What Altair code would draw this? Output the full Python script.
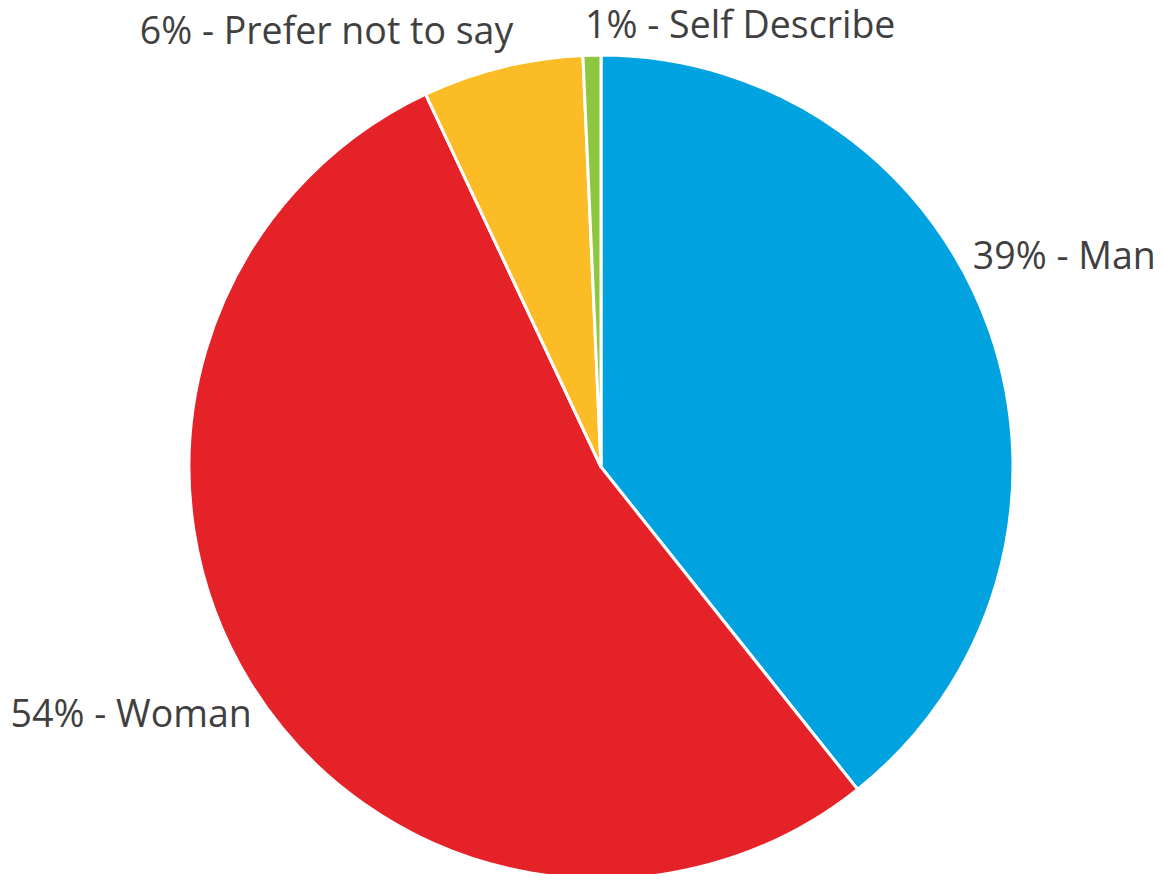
import altair as alt
import pandas as pd

categories = ["Man", "Woman", "Prefer not to say", "Self Describe"]
values = [39.3, 53.7, 6.3, 0.7]
colors = ["#00A3E0", "#E52228", "#FBBC25", "#8DC63F"]

df = pd.DataFrame({"category": categories, "value": values, "idx": list(range(len(categories)))})

W, H = 1147, 866
CX, CY = 593, 459
R = 412
LR = 450

theta_scale = alt.Scale(domain=[0, 100])
base = alt.Chart(df)

pie = base.mark_arc(outerRadius=R, stroke="white", strokeWidth=3).encode(
    theta=alt.Theta("value:Q", stack=True, scale=theta_scale),
    color=alt.Color("category:N", scale=alt.Scale(domain=categories, range=colors), legend=None),
    order=alt.Order("idx:Q"),
    x=alt.value(CX),
    y=alt.value(CY),
)

lab = base.transform_window(
    cum="sum(value)", sort=[alt.SortField("idx")], frame=[None, 0]
).transform_calculate(
    mid="datum.cum - datum.value / 2",
    label="format(datum.value, '.0f') + '% - ' + datum.category",
)


def label_layer(cat, align, dx, dy):
    return lab.transform_filter(alt.datum.category == cat).mark_text(
        radius=LR, align=align, baseline="alphabetic", dx=dx, dy=dy,
        font="Open Sans", fontSize=37.5, color="#404040",
    ).encode(
        theta=alt.Theta("mid:Q", scale=theta_scale, stack=False),
        text="label:N",
        x=alt.value(CX),
        y=alt.value(CY),
    )


labels = [
    label_layer("Man", "left", -53, -50),
    label_layer("Woman", "right", 33, 22),
    label_layer("Prefer not to say", "right", 20, 14),
    label_layer("Self Describe", "left", -6, 21),
]

chart = alt.layer(pie, *labels).properties(
    width=W, height=H, autosize=alt.AutoSizeParams(type="none"), padding=0
).configure_view(stroke=None)

chart.save("out.html", embed_options={"renderer": "svg", "actions": False})
